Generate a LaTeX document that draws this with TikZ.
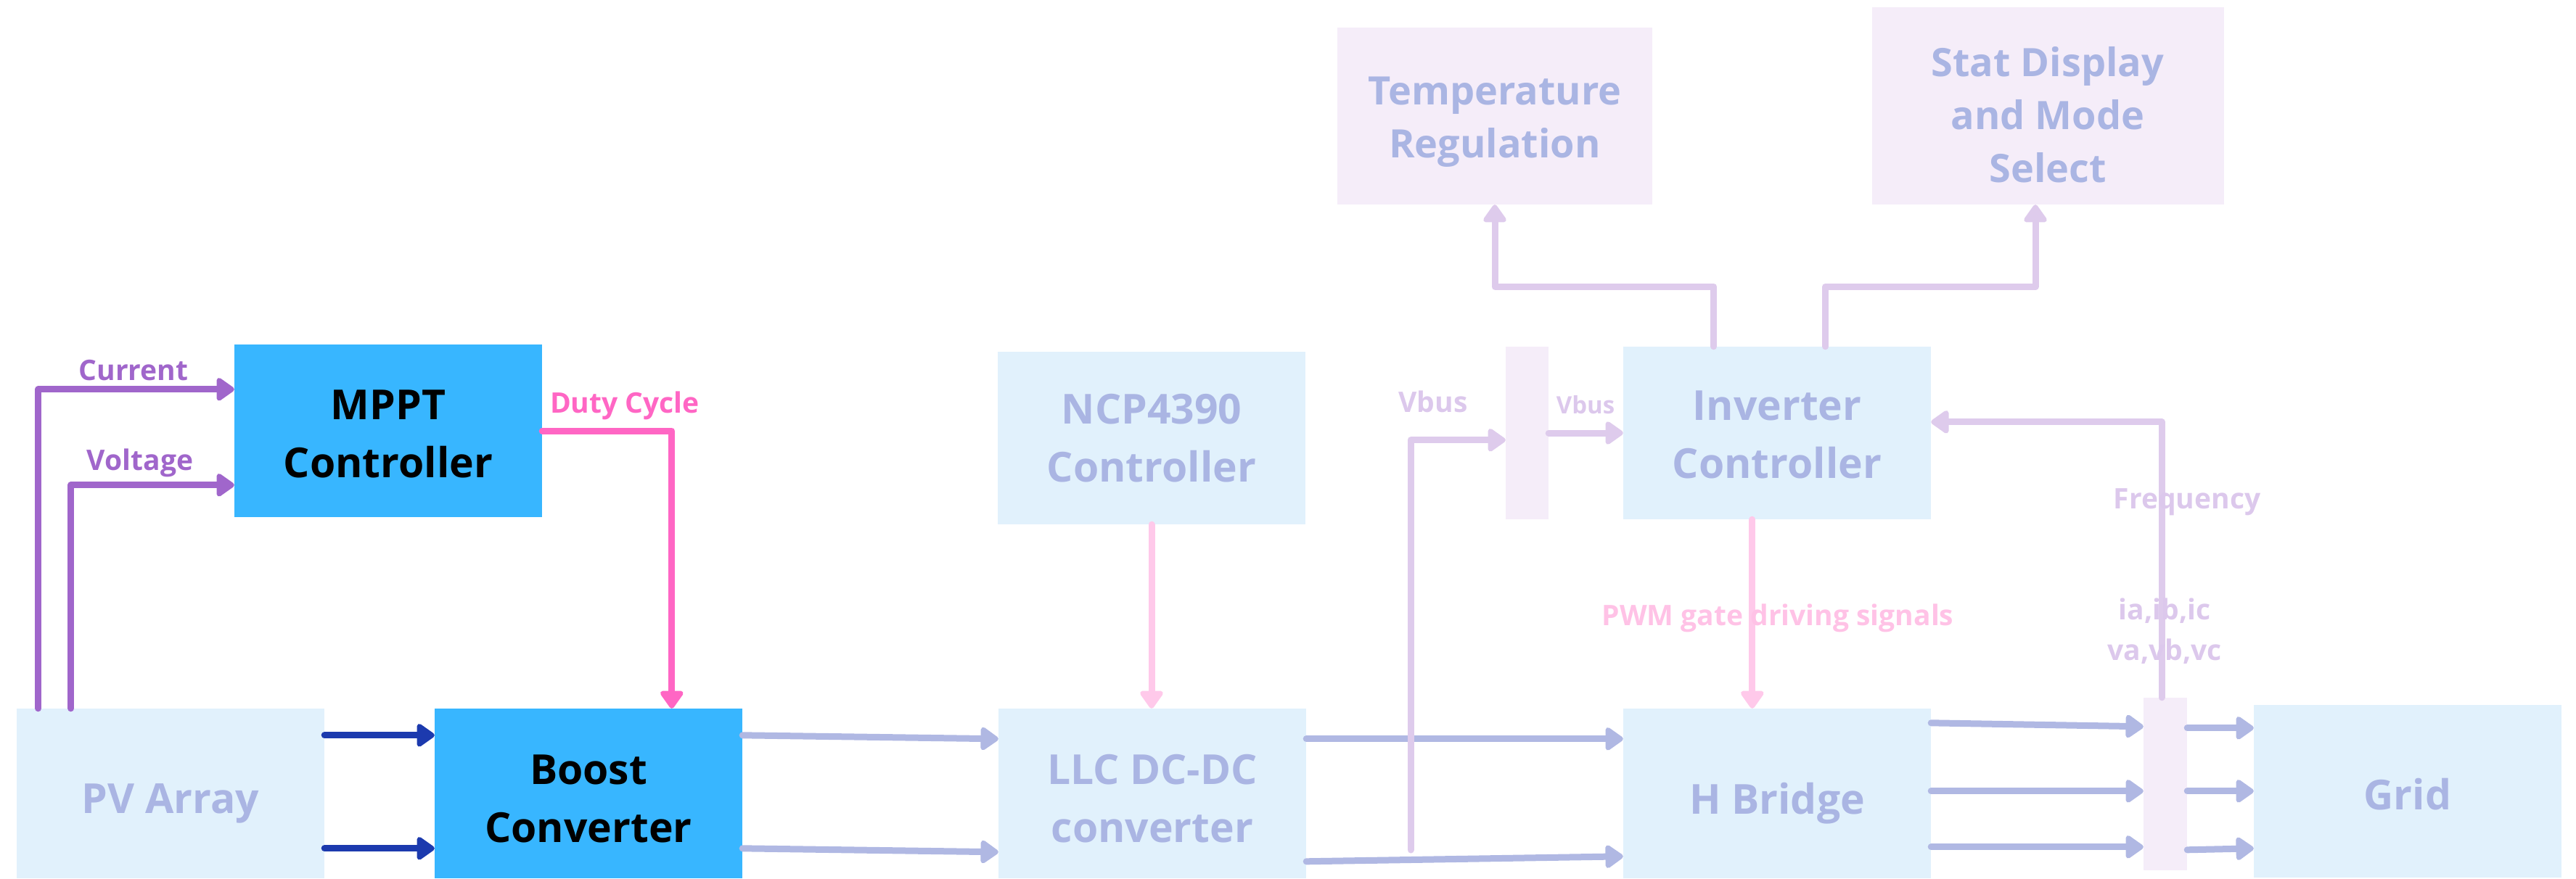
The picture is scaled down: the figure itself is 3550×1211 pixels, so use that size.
\documentclass[tikz,border=0pt]{standalone}
\usepackage{fontspec}
\setmainfont{Open Sans}
\usetikzlibrary{arrows.meta,calc}

\definecolor{boxlight}{HTML}{E1F1FC}
\definecolor{boxlav}{HTML}{F5EDF9}
\definecolor{boxblue}{HTML}{38B6FF}
\definecolor{txtfade}{HTML}{AAB5E3}
\definecolor{purp}{HTML}{A066CB}
\definecolor{pinkk}{HTML}{FF66C4}
\definecolor{navy}{HTML}{1C3AAE}
\definecolor{peri}{HTML}{B0B8E3}
\definecolor{lavline}{HTML}{DECBEC}
\definecolor{pinkfade}{HTML}{FFC9EA}
\definecolor{pinktxt}{HTML}{FFC2E6}
\definecolor{lavtxt}{HTML}{DCC8EC}

\begin{document}
\begin{tikzpicture}[x=1pt,y=-1pt,
  blk/.style={minimum width=424pt, minimum height=238pt, inner sep=0pt},
  lightblk/.style={blk, fill=boxlight},
  darkblk/.style={blk, fill=boxblue},
  lavblk/.style={blk, fill=boxlav},
  busbar/.style={fill=boxlav, minimum width=60pt, minimum height=238pt, inner sep=0pt},
  blktext/.style={inner sep=0pt, align=center, text=txtfade,
    font=\fontsize{57}{80}\selectfont\bfseries},
  darktext/.style={blktext, text=black},
  lavtext/.style={blktext, font=\fontsize{54}{73}\selectfont\bfseries},
  conn/.style={line width=9pt, line cap=round, line join=round,
    -{Triangle[width=36pt,length=27pt,round]}},
  lbl/.style={anchor=base, inner sep=0pt, font=\fontsize{39}{56}\selectfont\bfseries}
]
\useasboundingbox (0,0) rectangle (3550,1211);

% blocks
\node[lightblk, minimum height=234pt] (pv) at (235,1094) {};
\node[darkblk, minimum height=234pt] (boost) at (811,1094) {};
\node[darkblk] (mppt) at (535,594) {};
\node[lightblk] (ncp) at (1587,604) {};
\node[lightblk, minimum height=234pt] (llc) at (1588,1094) {};
\node[lightblk] (inv) at (2449,597) {};
\node[lightblk, minimum height=234pt] (hb) at (2449,1094) {};
\node[lightblk] (grid) at (3318,1091) {};
\node[lavblk, minimum width=434pt, minimum height=244pt] (temp) at (2060,160) {};
\node[lavblk, minimum width=485pt, minimum height=272pt] (stat) at (2822,146) {};
\node[busbar, minimum width=59pt] (bar1) at (2104.5,597) {};
\node[busbar] (bar2) at (2984,1081) {};

% block captions
\node[blktext] (pvtext) at ($(pv.center)+(0,14)$) {PV Array};
\node[darktext] (boosttext) at ($(boost.center)+(0,7)$) {Boost\\Converter};
\node[darktext] (mppttext) at ($(mppt.center)+(0,4)$) {MPPT\\Controller};
\node[blktext] (ncptext) at (ncp.center) {NCP4390\\Controller};
\node[blktext] (llctext) at ($(llc.center)+(0,7)$) {LLC DC-DC\\converter};
\node[blktext] (invtext) at ($(inv.center)+(0,2)$) {Inverter\\Controller};
\node[blktext] (hbtext) at ($(hb.center)+(0,14)$) {H Bridge};
\node[blktext] (gridtext) at ($(grid.center)+(0,4)$) {Grid};
\node[lavtext] (temptext) at ($(temp.center)+(0,8)$) {Temperature\\Regulation};
\node[lavtext] (stattext) at ($(stat.center)+(0,12)$) {Stat Display\\and Mode\\Select};

% MPPT sensing and duty cycle
\draw[conn, purp] ($(pv.north west)+(30,0)$) |- ($(mppt.north west)+(0,62)$);
\draw[conn, purp] ($(pv.north west)+(75,0)$) |- ($(mppt.north west)+(0,194)$);
\draw[conn, pinkk] (mppt.east) -| ($(boost.north west)+(327,0)$);
\node[lbl, text=purp] (lcur) at (184,524) {Current};
\node[lbl, text=purp] (lvolt) at (193,648) {Voltage};
\node[lbl, text=pinkk] (lduty) at (861,569) {Duty Cycle};

% power path
\draw[conn, navy] ($(pv.north east)+(0,37)$) -- ($(boost.north west)+(0,37)$);
\draw[conn, navy] ($(pv.north east)+(0,193)$) -- ($(boost.north west)+(0,193)$);
\draw[conn, peri] ($(boost.north east)+(0,37)$) -- ($(llc.north west)+(0,42)$);
\draw[conn, peri] ($(boost.north east)+(0,193)$) -- ($(llc.north west)+(0,198)$);
\draw[conn, peri] ($(llc.north east)+(0,42)$) -- ($(hb.north west)+(0,42)$);
\draw[conn, peri] ($(llc.north east)+(0,211)$) -- ($(hb.north west)+(0,204)$);
\foreach \a/\b in {20/40, 114/129, 191/206}
  \draw[conn, peri] ($(hb.north east)+(0,\a)$) -- ($(bar2.north west)+(0,\b)$);
\foreach \a/\b in {42/32, 129/119, 210/198}
  \draw[conn, peri] ($(bar2.north east)+(0,\a)$) -- ($(grid.north west)+(0,\b)$);

% LLC controller
\draw[conn, pinkfade] (ncp.south) -- (ncp.south |- llc.north);

% DC bus sensing
\coordinate (vtap) at (1944,1172);
\draw[conn, lavline] (vtap) |- ($(bar1.north west)+(0,129)$);
\draw[conn, lavline] (bar1.east) -- (inv.west);
\node[lbl, text=lavtxt] (lvbus1) at (1975,568) {Vbus};
\node[lbl, text=lavtxt, font=\fontsize{33}{40}\selectfont\bfseries] (lvbus2) at (2185,570) {Vbus};

% inverter controller outputs
\draw[conn, lavline] ($(inv.north west)+(125,0)$) |- ($(temp.south)+(0,113)$) -- (temp.south);
\draw[conn, lavline] ($(inv.north west)+(279,0)$) |- ($(stat.south)+(-17,113)$) -- ($(stat.south)+(-17,0)$);
\draw[conn, pinkfade] ($(inv.south west)+(178,0)$) -- ($(hb.north west)+(178,0)$);
\node[lbl, text=pinktxt] (lpwm) at (2450,862) {PWM gate driving signals};

% grid feedback
\draw[conn, lavline] ($(bar2.north)+(-5,0)$) |- ($(inv.north east)+(0,104)$);
\node[lbl, text=lavtxt] (lfreq) at (3014,701) {Frequency};
\node[lbl, text=lavtxt] (liabc) at (2983,854) {ia,ib,ic};
\node[lbl, text=lavtxt] (lvabc) at (2983,910) {va,vb,vc};
\end{tikzpicture}
\end{document}
